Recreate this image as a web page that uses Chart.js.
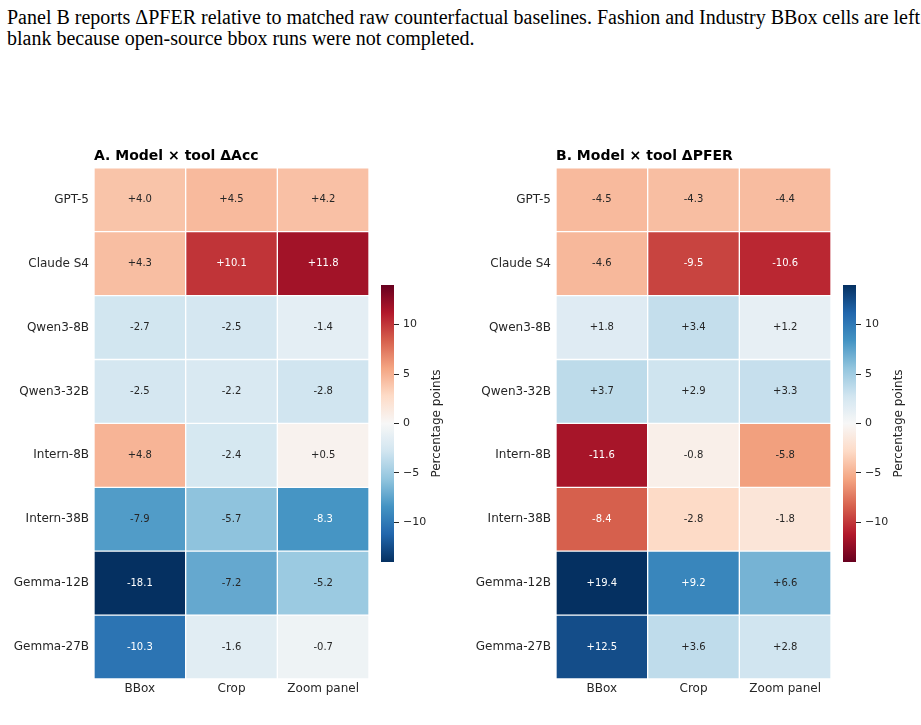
<!DOCTYPE html>
<html>
<head>
<meta charset="utf-8">
<script src="https://cdn.jsdelivr.net/npm/chart.js@4.4.1/dist/chart.umd.min.js"></script>
<style>
  body { margin: 0; background: #fff; width: 921px; height: 725px; position: relative; overflow: hidden; }
  .caption {
    position: absolute; left: 7px; top: 7px; margin: 0;
    font-family: 'Liberation Serif', serif; font-size: 20px; line-height: 21px;
    color: #000; white-space: nowrap;
  }
  .box { position: absolute; }
</style>
</head>
<body>
<p class="caption">Panel B reports ΔPFER relative to matched raw counterfactual baselines. Fashion and Industry BBox cells are left<br>blank because open-source bbox runs were not completed.</p>

<div class="box" style="left:0px; top:148px; width:369px; height:561px;"><canvas id="heatA"></canvas></div>
<div class="box" style="left:381px; top:285px; width:83px; height:277px;"><canvas id="cbarA"></canvas></div>
<div class="box" style="left:462px; top:148px; width:369px; height:561px;"><canvas id="heatB"></canvas></div>
<div class="box" style="left:843px; top:285px; width:83px; height:277px;"><canvas id="cbarB"></canvas></div>

<script>
// data
const models = ['GPT-5', 'Claude S4', 'Qwen3-8B', 'Qwen3-32B', 'Intern-8B', 'Intern-38B', 'Gemma-12B', 'Gemma-27B'];
const tools = ['BBox', 'Crop', 'Zoom panel'];

// Panel A: delta accuracy
const accBBox = [4.0, 4.3, -2.7, -2.5, 4.8, -7.9, -18.1, -10.3];
const accCrop = [4.5, 10.1, -2.5, -2.2, -2.4, -5.7, -7.2, -1.6];
const accZoom = [4.2, 11.8, -1.4, -2.8, 0.5, -8.3, -5.2, -0.7];

// Panel B: delta PFER
const pferBBox = [-4.5, -4.6, 1.8, 3.7, -11.6, -8.4, 19.4, 12.5];
const pferCrop = [-4.3, -9.5, 3.4, 2.9, -0.8, -2.8, 9.2, 3.6];
const pferZoom = [-4.4, -10.6, 1.2, 3.3, -5.8, -1.8, 6.6, 2.8];

const cbarTicks = [-10, -5, 0, 5, 10];
const VMIN = -14, VMAX = 14;
const WHITE_TEXT_ABOVE = 8;

Chart.defaults.font.family = 'DejaVu Sans';
Chart.defaults.color = '#262626';
Chart.defaults.animation = false;

// RdBu (ColorBrewer 11 class), red at 0 and blue at 1
const RDBU = ['#67001f', '#b2182b', '#d6604d', '#f4a582', '#fddbc7', '#f7f7f7',
              '#d1e5f0', '#92c5de', '#4393c3', '#2166ac', '#053061'];
const hexRgb = h => [1, 3, 5].map(i => parseInt(h.substr(i, 2), 16));

function rdbu(t) {
  t = Math.min(1, Math.max(0, t));
  const pos = t * (RDBU.length - 1);
  const i = Math.min(Math.floor(pos), RDBU.length - 2);
  const f = pos - i;
  const a = hexRgb(RDBU[i]), b = hexRgb(RDBU[i + 1]);
  const c = a.map((v, k) => Math.round(v + (b[k] - v) * f));
  return `rgb(${c[0]},${c[1]},${c[2]})`;
}

const norm = v => (v - VMIN) / (VMAX - VMIN);
// reversed = high values red (RdBu_r)
const colorFor = (v, reversed) => rdbu(reversed ? 1 - norm(v) : norm(v));

// writes the value in the middle of each cell
const cellLabels = {
  id: 'cellLabels',
  afterDatasetsDraw(chart) {
    const ctx = chart.ctx;
    ctx.save();
    ctx.font = '10px DejaVu Sans';
    ctx.textAlign = 'center';
    ctx.textBaseline = 'middle';
    chart.data.datasets.forEach((ds, di) => {
      chart.getDatasetMeta(di).data.forEach((bar, i) => {
        const p = bar.getProps(['x', 'y', 'base'], true);
        const v = ds.values[i];
        ctx.fillStyle = Math.abs(v) > WHITE_TEXT_ABOVE ? '#ffffff' : '#262626';
        ctx.fillText((v > 0 ? '+' : '') + v.toFixed(1), (p.x + p.base) / 2, p.y);
      });
    });
    ctx.restore();
  }
};

function makeHeatmap(id, title, series, reversed) {
  new Chart(document.getElementById(id), {
    type: 'bar',
    data: {
      labels: models,
      datasets: series.map((vals, j) => ({
        label: tools[j],
        data: models.map(() => 1),
        values: vals,
        backgroundColor: vals.map(v => colorFor(v, reversed)),
        borderColor: '#ffffff',
        borderWidth: 1,
        borderSkipped: false,
        barPercentage: 1,
        categoryPercentage: 1
      }))
    },
    options: {
      indexAxis: 'y',
      responsive: true,
      maintainAspectRatio: false,
      layout: { padding: 0 },
      plugins: {
        legend: { display: false },
        tooltip: { enabled: false },
        title: {
          display: true,
          text: title,
          align: 'start',
          fullSize: false,
          color: '#000',
          font: { size: 14, weight: 'bold' },
          padding: { top: 0, bottom: 3 }
        }
      },
      scales: {
        x: {
          type: 'linear',
          stacked: true,
          min: 0,
          max: tools.length,
          grid: { display: false, drawTicks: false },
          border: { display: false },
          afterBuildTicks: s => { s.ticks = tools.map((t, i) => ({ value: i + 0.5 })); },
          afterFit: s => { s.height = 30; s.paddingLeft = 0; s.paddingRight = 0; },
          ticks: {
            font: { size: 12 },
            padding: 3,
            maxRotation: 0,
            callback: (v, i) => tools[i]
          }
        },
        y: {
          stacked: true,
          grid: { display: false, drawTicks: false },
          border: { display: false },
          afterFit: s => { s.width = 94; s.paddingTop = 0; s.paddingBottom = 0; },
          ticks: { font: { size: 12 }, padding: 5 }
        }
      }
    },
    plugins: [cellLabels]
  });
}

// rotated colorbar label
const cbarTitle = {
  id: 'cbarTitle',
  afterDraw(chart) {
    const ctx = chart.ctx;
    const a = chart.chartArea;
    ctx.save();
    ctx.translate(56, (a.top + a.bottom) / 2);
    ctx.rotate(-Math.PI / 2);
    ctx.font = '12px DejaVu Sans';
    ctx.fillStyle = '#262626';
    ctx.textAlign = 'center';
    ctx.textBaseline = 'middle';
    ctx.fillText('Percentage points', 0, 0);
    ctx.restore();
  }
};

function makeColorbar(id, reversed) {
  new Chart(document.getElementById(id), {
    type: 'bar',
    data: {
      labels: [''],
      datasets: [{
        data: [[VMIN, VMAX]],
        barPercentage: 1,
        categoryPercentage: 1,
        backgroundColor: c => {
          const a = c.chart.chartArea;
          if (!a) return null;
          const g = c.chart.ctx.createLinearGradient(0, a.bottom, 0, a.top);
          for (let k = 0; k <= 40; k++) g.addColorStop(k / 40, rdbu(reversed ? 1 - k / 40 : k / 40));
          return g;
        }
      }]
    },
    options: {
      responsive: true,
      maintainAspectRatio: false,
      layout: { padding: 0 },
      plugins: { legend: { display: false }, tooltip: { enabled: false } },
      scales: {
        x: { display: false },
        y: {
          position: 'right',
          min: VMIN,
          max: VMAX,
          border: { display: false },
          grid: { drawOnChartArea: false, drawTicks: true, tickLength: 5, color: '#262626' },
          afterBuildTicks: s => { s.ticks = cbarTicks.map(v => ({ value: v })); },
          afterFit: s => { s.width = 70; s.paddingTop = 0; s.paddingBottom = 0; },
          ticks: {
            font: { size: 11 },
            padding: 4,
            callback: v => String(v).replace('-', '\u2212')
          }
        }
      }
    },
    plugins: [cbarTitle]
  });
}

makeHeatmap('heatA', 'A. Model \u00d7 tool \u0394Acc', [accBBox, accCrop, accZoom], true);
makeColorbar('cbarA', true);
makeHeatmap('heatB', 'B. Model \u00d7 tool \u0394PFER', [pferBBox, pferCrop, pferZoom], false);
makeColorbar('cbarB', false);
</script>
</body>
</html>
